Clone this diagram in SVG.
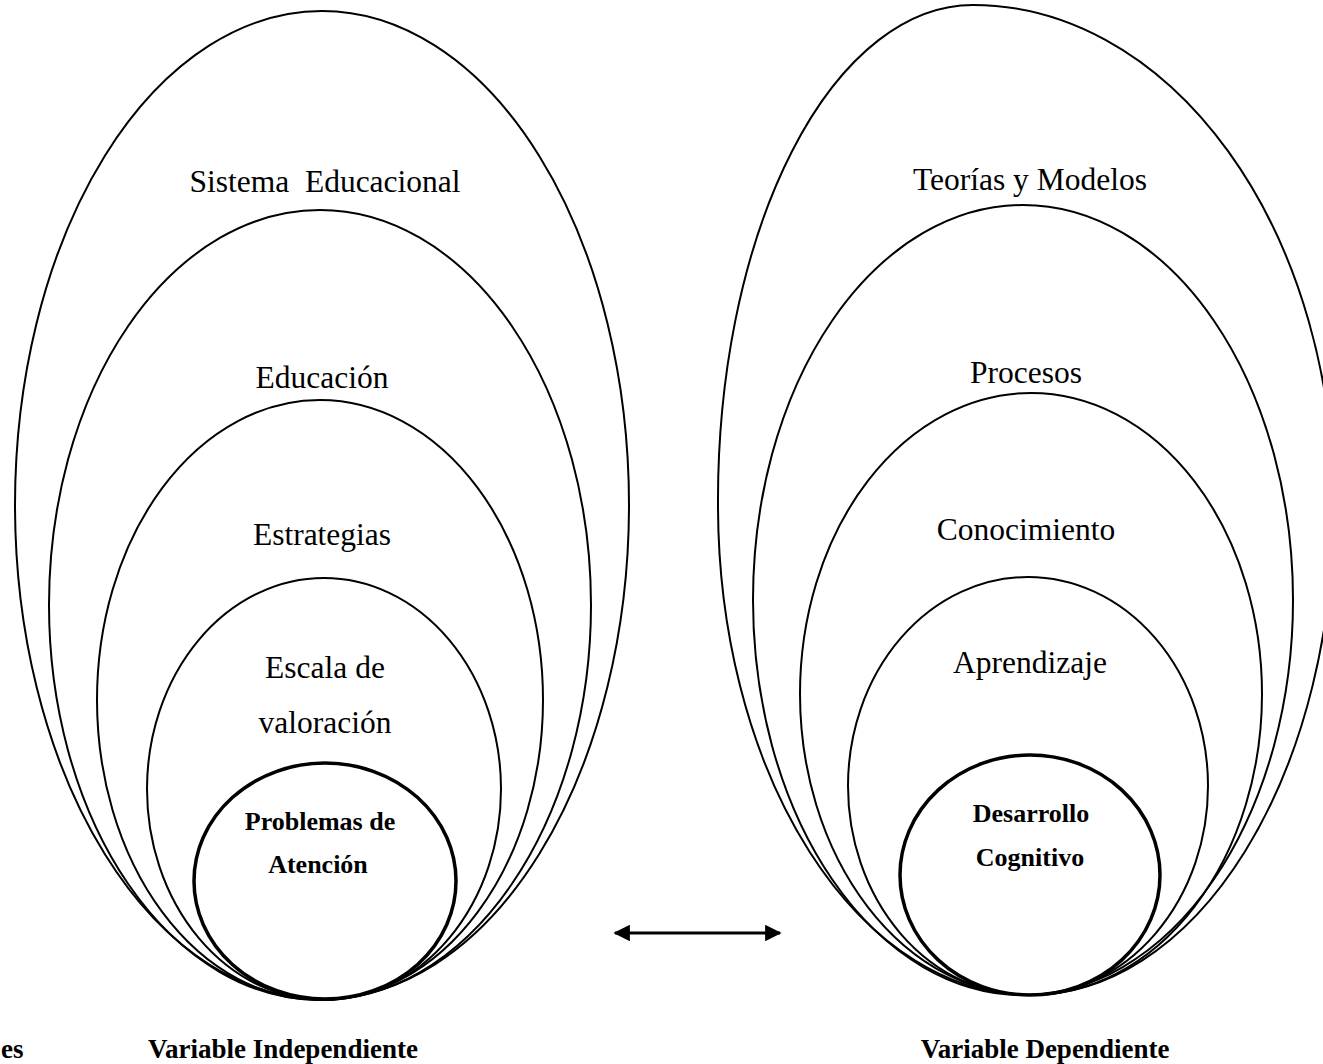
<svg xmlns="http://www.w3.org/2000/svg" width="1323" height="1064" viewBox="0 0 1323 1064">
<style>
.e{fill:none;stroke:#000;stroke-width:2}
.b{fill:none;stroke:#000;stroke-width:3.5}
.t{font-family:"Liberation Serif","Times New Roman",serif;font-size:31.5px;fill:#000;text-anchor:middle;white-space:pre}
.tb{font-family:"Liberation Serif","Times New Roman",serif;font-size:26px;font-weight:bold;fill:#000;text-anchor:middle}
.lb{font-family:"Liberation Serif","Times New Roman",serif;font-size:27px;font-weight:bold;fill:#000;text-anchor:middle}
</style>
<defs>
<marker id="ah" viewBox="0 0 10 10" refX="9" refY="5" markerWidth="5.5" markerHeight="5.5" orient="auto-start-reverse" markerUnits="strokeWidth">
<path d="M0,0 L10,5 L0,10 z" fill="#000"/>
</marker>
</defs>
<rect width="1323" height="1064" fill="#fff"/>
<g id="left-group">
<g id="sistema-educacional"><ellipse class="e" cx="322" cy="505" rx="307" ry="494"/><text class="t" x="325" y="192" xml:space="preserve">Sistema  Educacional</text></g>
<g id="educacion"><ellipse class="e" cx="320" cy="605" rx="271" ry="395"/><text class="t" x="322" y="388">Educación</text></g>
<g id="estrategias"><ellipse class="e" cx="320" cy="700" rx="223" ry="300"/><text class="t" x="322" y="545">Estrategias</text></g>
<g id="escala"><ellipse class="e" cx="324" cy="789" rx="177" ry="211"/><text class="t" x="325" y="678">Escala de</text><text class="t" x="325" y="733">valoración</text></g>
<g id="problemas-atencion"><ellipse class="b" cx="325" cy="881" rx="131" ry="118"/><text class="tb" x="320" y="830">Problemas de</text><text class="tb" x="318" y="873">Atención</text></g>
</g>
<g id="right-group">
<g id="teorias-modelos"><path class="e" d="M973,5 A255,495 0 0 0 718,505 A312,490 0 0 0 1030,995 A304,490 0 0 0 1334,505 A361,500 0 0 0 973,5 Z"/><text class="t" x="1030" y="190">Teorías y Modelos</text></g>
<g id="procesos"><ellipse class="e" cx="1023" cy="600" rx="270" ry="395"/><text class="t" x="1026" y="383">Procesos</text></g>
<g id="conocimiento"><ellipse class="e" cx="1031" cy="694" rx="231" ry="301"/><text class="t" x="1026" y="540">Conocimiento</text></g>
<g id="aprendizaje"><ellipse class="e" cx="1028" cy="786" rx="180" ry="209"/><text class="t" x="1030" y="673">Aprendizaje</text></g>
<g id="desarrollo-cognitivo"><ellipse class="b" cx="1030" cy="875" rx="130" ry="120"/><text class="tb" x="1031" y="822">Desarrollo</text><text class="tb" x="1030" y="866">Cognitivo</text></g>
</g>
<g id="connectors">
<line x1="615" y1="933" x2="780" y2="933" stroke="#000" stroke-width="3" marker-start="url(#ah)" marker-end="url(#ah)"/>
</g>
<g id="labels">
<text class="lb" x="283" y="1058">Variable Independiente</text>
<text class="lb" x="1045" y="1058">Variable Dependiente</text>
<text class="lb" x="1" y="1058" style="text-anchor:start">es</text>
</g>
</svg>
